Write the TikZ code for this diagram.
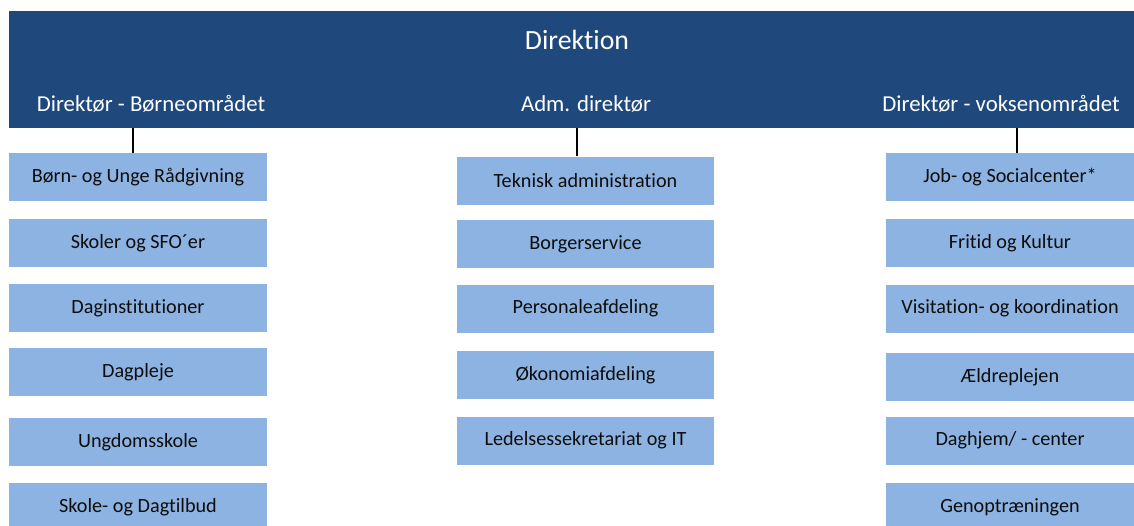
\documentclass[tikz,border=0pt]{standalone}
\usepackage{fontspec}
\setmainfont{Carlito}[Ligatures=NoCommon]
\definecolor{banner}{RGB}{31,73,125}
\definecolor{boxfill}{RGB}{141,179,226}
\definecolor{boxtext}{RGB}{13,13,13}
\begin{document}
\begin{tikzpicture}[x=1pt,y=-1pt,
  unit/.style={fill=boxfill,draw=none,minimum height=48pt,inner sep=0pt,
    text=boxtext,font=\fontsize{20.2}{22}\selectfont},
  lcol/.style={unit,minimum width=258pt},
  mcol/.style={unit,minimum width=257pt},
  rcol/.style={unit,minimum width=248pt},
  head/.style={text=white,font=\fontsize{22.8}{26}\selectfont,inner sep=0pt},
  conn/.style={draw=black,line width=1.5pt}]
\useasboundingbox (0,0) rectangle (1134,525);
% banner
\node[fill=banner,draw=none,minimum width=1125pt,minimum height=117pt,inner sep=0pt,anchor=north west] (dir) at (9,11) {};
\node[text=white,font=\fontsize{27.8}{32}\selectfont,inner sep=0pt] (title) at (577,40) {Direktion};
\node[head] (h1) at (151,104) {Direktør - Børneområdet};
\node[head] (h2) at (586,104) {Adm. direktør};
\node[head] (h3) at (1001,104) {Direktør - voksenområdet};
% left column
\node[lcol] (l1) at (138,177) {Børn- og Unge Rådgivning};
\node[lcol] (l2) at (138,243) {Skoler og SFO´er};
\node[lcol] (l3) at (138,308) {Daginstitutioner};
\node[lcol] (l4) at (138,372) {Dagpleje};
\node[lcol] (l5) at (138,442) {Ungdomsskole};
\node[lcol] (l6) at (138,507) {Skole- og Dagtilbud};
% middle column
\node[mcol] (m1) at (585.5,180.5) {Teknisk administration};
\node[mcol] (m2) at (585.5,244) {Borgerservice};
\node[mcol] (m3) at (585.5,308.5) {Personaleafdeling};
\node[mcol] (m4) at (585.5,375) {Økonomiafdeling};
\node[mcol] (m5) at (585.5,440.5) {Ledelsessekretariat og IT};
% right column
\node[rcol] (r1) at (1010,177) {Job- og Socialcenter*};
\node[rcol] (r2) at (1010,243) {Fritid og Kultur};
\node[rcol] (r3) at (1010,308.5) {Visitation- og koordination};
\node[rcol] (r4) at (1010,377) {Ældreplejen};
\node[rcol] (r5) at (1010,440.5) {Daghjem/ - center};
\node[rcol] (r6) at (1010,507) {Genoptræningen};
% connectors
\coordinate (c1) at (133,128);
\coordinate (c2) at (577,128);
\coordinate (c3) at (1017,128);
\draw[conn] (c1) -- (c1 |- l1.north);
\draw[conn] (c2) -- (c2 |- m1.north);
\draw[conn] (c3) -- (c3 |- r1.north);
\end{tikzpicture}
\end{document}
